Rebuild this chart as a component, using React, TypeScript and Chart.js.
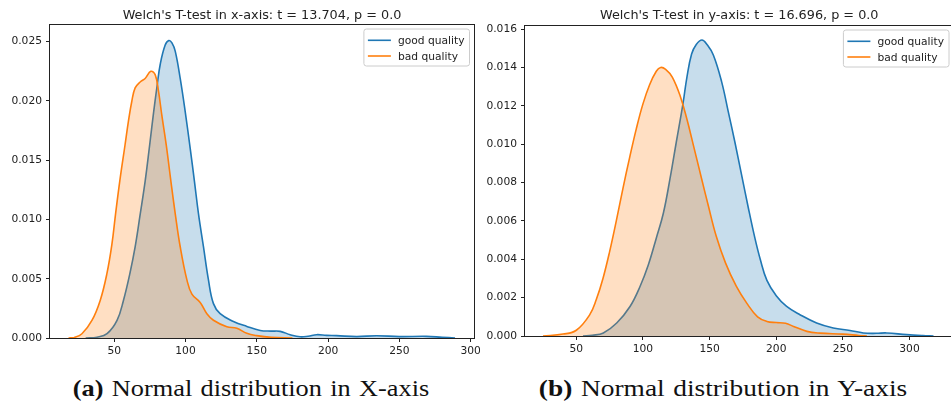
import React, { useEffect, useRef } from "react";
import { Chart, registerables } from "chart.js";

Chart.register(...registerables);

// ---- Data: panel (a), x-axis KDE ----
const goodXx = [30, 38, 45, 52, 56.5, 61, 64.7, 68.2, 71.8, 74.8, 77.6, 80, 82.3, 85.7, 88.3, 90.5, 92.8, 96.3, 99.8, 103.3, 106.3, 109.1, 112.6, 116.1, 119.6, 124.3, 133.6, 143, 152.4, 160, 166.4, 173.4, 180.4, 186, 192, 199, 206, 220, 234, 250, 269, 280, 289];
const goodXy = [0, 0.00007, 0.00036, 0.00148, 0.00317, 0.00543, 0.00768, 0.0104, 0.0133, 0.0162, 0.019, 0.0212, 0.0231, 0.0247, 0.0251, 0.0249, 0.0242, 0.0219, 0.0191, 0.016, 0.0132, 0.0105, 0.0077, 0.0049, 0.0029, 0.00205, 0.0014, 0.00098, 0.00064, 0.00058, 0.00056, 0.00028, 0.0001, 0.00015, 0.00028, 0.00022, 0.0002, 0.00012, 0.00019, 0.00012, 0.00014, 0.00006, 0];
const badXx = [18, 22, 27.4, 34.4, 40.2, 44.9, 48.4, 51, 54, 57.5, 60, 62.4, 64.7, 68.2, 71.7, 75.7, 78.8, 81.1, 83.4, 86.5, 89.8, 92.8, 96.3, 101, 104.5, 110.3, 115, 119.6, 129, 136, 143, 150, 160, 175];
const badXy = [0, 0.00005, 0.00036, 0.00148, 0.00317, 0.00543, 0.0079, 0.0105, 0.0133, 0.0162, 0.0183, 0.02, 0.0211, 0.0216, 0.0219, 0.0225, 0.0222, 0.0208, 0.0188, 0.0163, 0.0132, 0.0105, 0.0077, 0.0049, 0.0037, 0.003, 0.00205, 0.0015, 0.00095, 0.00082, 0.0004, 0.0002, 0.00005, 0];

// ---- Data: panel (b), y-axis KDE ----
const goodYx = [55, 62, 70.3, 80.3, 90.3, 97.8, 104, 110, 115.3, 120.3, 125, 130, 133, 136.5, 140, 144.3, 148, 152.8, 159, 164, 169, 174, 179, 184, 188, 193, 200, 207.8, 217.8, 230.3, 242.8, 255.3, 265.3, 275, 282.8, 297.8, 310, 318];
const goodYy = [0, 0.00004, 0.00016, 0.00068, 0.00154, 0.00258, 0.0037, 0.0051, 0.0064, 0.0082, 0.0101, 0.0121, 0.0135, 0.0147, 0.0152, 0.01543, 0.0152, 0.01465, 0.01326, 0.0117, 0.0101, 0.0084, 0.0067, 0.0051, 0.004, 0.0029, 0.0021, 0.00154, 0.00111, 0.00068, 0.00042, 0.00029, 0.00016, 0.00014, 0.00016, 0.00007, 0.00002, 0];
const badYx = [25, 40, 50, 60, 65, 70, 75, 80, 85, 90, 95, 100, 105, 110, 113.3, 117, 122, 128, 133, 138, 144, 149, 155, 162, 170, 178, 186, 193, 200, 207, 213, 223, 233, 250, 262, 268];
const badYy = [0, 0.0001, 0.0003, 0.0011, 0.0019, 0.003, 0.0044, 0.006, 0.0077, 0.0093, 0.0108, 0.0121, 0.0131, 0.0138, 0.014, 0.0139, 0.0135, 0.0125, 0.0113, 0.0099, 0.0082, 0.0068, 0.0052, 0.0038, 0.0026, 0.0017, 0.001, 0.00076, 0.0007, 0.00066, 0.0005, 0.00024, 0.00015, 0.0001, 0.00003, 0];

// ---- Tick labels ----
const xTicksA = [50, 100, 150, 200, 250, 300];
const yTicksA = [0, 0.005, 0.01, 0.015, 0.02, 0.025];
const xTicksB = [50, 100, 150, 200, 250, 300];
const yTicksB = [0, 0.002, 0.004, 0.006, 0.008, 0.01, 0.012, 0.014, 0.016];

const seriesLabels = ["good quality", "bad quality"];
const titleA = "Welch's T-test in x-axis: t = 13.704, p = 0.0";
const titleB = "Welch's T-test in y-axis: t = 16.696, p = 0.0";
const captionA = "Normal distribution in X-axis";
const captionB = "Normal distribution in Y-axis";

const BLUE = "#1f77b4";
const ORANGE = "#ff7f0e";
const BLUE_FILL = "rgba(31,119,180,0.25)";
const ORANGE_FILL = "rgba(255,127,14,0.25)";
const INK = "#222222";
const SANS = "'DejaVu Sans', sans-serif";

const toPts = (xs: number[], ys: number[]) => xs.map((x, i) => ({ x, y: ys[i] }));

type Panel = {
  title: string;
  goodX: number[]; goodY: number[]; badX: number[]; badY: number[];
  xTicks: number[]; yTicks: number[];
  xMin: number; xMax: number; yMax: number;
  padTop: number; padRight: number; yW: number; xH: number;
};

function decorPlugin(title: string) {
  return {
    id: "decor",
    afterDraw(chart: any) {
      const { ctx, chartArea: a } = chart;
      ctx.save();
      // frame
      ctx.strokeStyle = INK;
      ctx.lineWidth = 1;
      ctx.strokeRect(a.left - 0.5, a.top - 0.5, a.right - a.left + 1, a.bottom - a.top + 1);
      // title
      ctx.fillStyle = INK;
      ctx.font = `12.8px ${SANS}`;
      ctx.textAlign = "center";
      ctx.textBaseline = "alphabetic";
      ctx.fillText(title, (a.left + a.right) / 2, 19.4);
      // legend
      ctx.font = `10.7px ${SANS}`;
      const tw = Math.max(...seriesLabels.map((s) => ctx.measureText(s).width));
      const bw = 4 + 23 + 7 + tw + 5;
      const bh = 37;
      const bx = a.right - 4.5 - bw;
      const by = a.top + 4;
      ctx.beginPath();
      ctx.roundRect(bx, by, bw, bh, 2.5);
      ctx.fillStyle = "rgba(255,255,255,0.8)";
      ctx.fill();
      ctx.strokeStyle = "#cccccc";
      ctx.lineWidth = 1;
      ctx.stroke();
      const cols = [BLUE, ORANGE];
      seriesLabels.forEach((s, i) => {
        const ly = by + 11.3 + i * 15.7;
        ctx.beginPath();
        ctx.strokeStyle = cols[i];
        ctx.lineWidth = 1.6;
        ctx.moveTo(bx + 4, ly);
        ctx.lineTo(bx + 27, ly);
        ctx.stroke();
        ctx.fillStyle = INK;
        ctx.textAlign = "left";
        ctx.textBaseline = "alphabetic";
        ctx.fillText(s, bx + 34, ly + 4);
      });
      ctx.restore();
    },
  };
}

function makeChart(canvas: HTMLCanvasElement, p: Panel) {
  const tickFont = { family: SANS, size: 10.7 };
  return new Chart(canvas, {
    type: "line",
    data: {
      datasets: [
        { label: seriesLabels[0], data: toPts(p.goodX, p.goodY), borderColor: BLUE, backgroundColor: BLUE_FILL, fill: "origin", order: 1 },
        { label: seriesLabels[1], data: toPts(p.badX, p.badY), borderColor: ORANGE, backgroundColor: ORANGE_FILL, fill: "origin", order: 0 },
      ],
    } as any,
    options: {
      animation: false,
      responsive: false,
      maintainAspectRatio: false,
      events: [],
      layout: { padding: { top: p.padTop, left: 0, right: p.padRight, bottom: 0 } },
      elements: {
        point: { radius: 0 },
        line: { borderWidth: 1.6, tension: 0.4 },
      },
      scales: {
        x: {
          type: "linear",
          min: p.xMin,
          max: p.xMax,
          afterBuildTicks: (s: any) => { s.ticks = p.xTicks.map((v) => ({ value: v })); },
          afterFit: (s: any) => { s.height = p.xH; s.paddingLeft = 0; s.paddingRight = 0; },
          grid: { display: true, drawOnChartArea: false, drawTicks: true, tickLength: 4, color: INK, lineWidth: 1 },
          border: { display: false },
          ticks: { font: tickFont, color: INK, padding: 3, maxRotation: 0, autoSkip: false, callback: (v: any) => String(v) },
        },
        y: {
          type: "linear",
          min: 0,
          max: p.yMax,
          afterBuildTicks: (s: any) => { s.ticks = p.yTicks.map((v) => ({ value: v })); },
          afterFit: (s: any) => { s.width = p.yW; s.paddingTop = 0; s.paddingBottom = 0; },
          grid: { display: true, drawOnChartArea: false, drawTicks: true, tickLength: 4, color: INK, lineWidth: 1 },
          border: { display: false },
          ticks: { font: tickFont, color: INK, padding: 4, autoSkip: false, callback: (v: any) => Number(v).toFixed(3) },
        },
      },
      plugins: { legend: { display: false }, tooltip: { enabled: false }, title: { display: false } },
    } as any,
    plugins: [decorPlugin(p.title)],
  });
}

function Caption({ letter, text, center, baseline, target }: { letter: string; text: string; center: number; baseline: number; target: number }) {
  const ref = useRef<HTMLDivElement>(null);
  useEffect(() => {
    const el = ref.current;
    if (!el) return;
    const w = el.offsetWidth;
    if (w > 0) el.style.transform = `translateX(-50%) scaleX(${target / w})`;
  }, [target]);
  const fs = 23;
  return (
    <div
      ref={ref}
      style={{
        position: "absolute",
        left: center,
        top: baseline - 0.8375 * fs,
        fontFamily: "'Liberation Serif', serif",
        fontSize: fs,
        lineHeight: 1,
        whiteSpace: "nowrap",
        color: "#111",
        transform: "translateX(-50%)",
        transformOrigin: "50% 50%",
        wordSpacing: 1.5,
      }}
    >
      <b>({letter})</b> {text}
    </div>
  );
}

export default function App() {
  const refA = useRef<HTMLCanvasElement>(null);
  const refB = useRef<HTMLCanvasElement>(null);

  useEffect(() => {
    const a = makeChart(refA.current!, {
      title: titleA,
      goodX: goodXx, goodY: goodXy, badX: badXx, badY: badXy,
      xTicks: xTicksA, yTicks: yTicksA,
      xMin: 5, xMax: 302.3, yMax: 0.02641,
      padTop: 25, padRight: 6, yW: 50, xH: 23,
    });
    const b = makeChart(refB.current!, {
      title: titleB,
      goodX: goodYx, goodY: goodYy, badX: badYx, badY: badYy,
      xTicks: xTicksB, yTicks: yTicksB,
      xMin: 11.5, xMax: 333, yMax: 0.01616,
      padTop: 26, padRight: 4.5, yW: 47, xH: 24,
    });
    return () => { a.destroy(); b.destroy(); };
  }, []);

  return (
    <div style={{ position: "fixed", left: 0, top: 0, width: 951, height: 401, overflow: "hidden", background: "#fff" }}>
      <canvas ref={refA} width={480} height={361} style={{ position: "absolute", left: 0, top: 0, width: 480, height: 361 }} />
      <canvas ref={refB} width={480} height={360} style={{ position: "absolute", left: 478, top: 0, width: 480, height: 360 }} />
      <Caption letter="a" text={captionA} center={251} baseline={396} target={356} />
      <Caption letter="b" text={captionB} center={723} baseline={396} target={368} />
    </div>
  );
}
